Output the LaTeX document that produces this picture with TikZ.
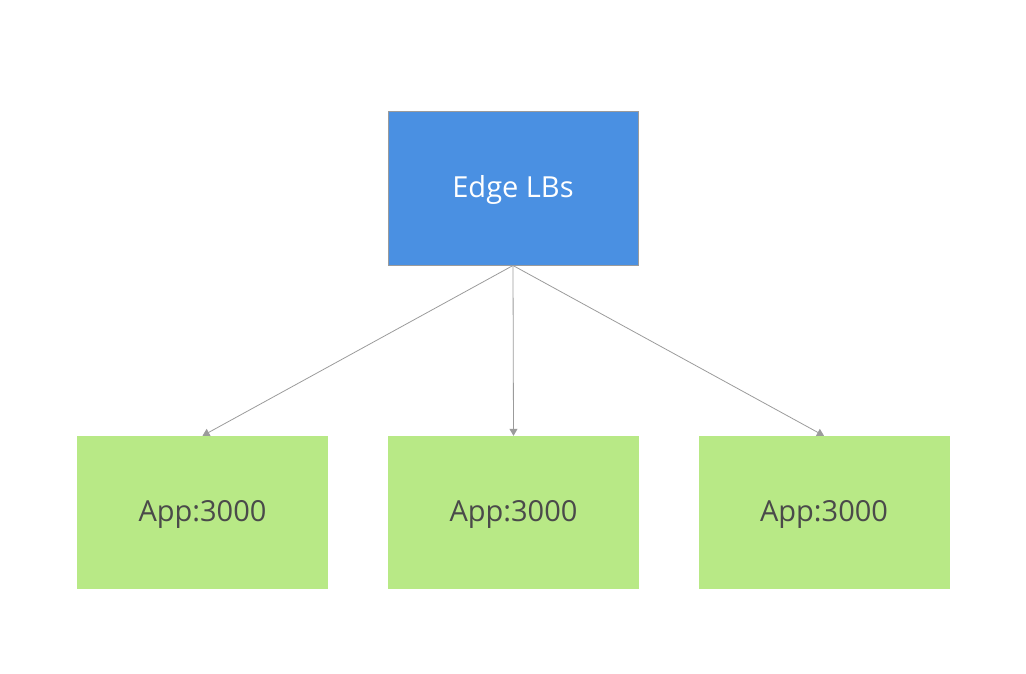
\documentclass[tikz,border=0pt]{standalone}
\usepackage{fontspec}
\setmainfont{Open Sans}
\usetikzlibrary{arrows.meta}
\definecolor{lbblue}{HTML}{4A90E2}
\definecolor{appgreen}{HTML}{B8E986}
\definecolor{txtgray}{HTML}{4A4A4A}
\definecolor{linegray}{HTML}{9B9B9B}
\tikzset{
  lbbox/.style={draw=linegray, line width=1pt, fill=lbblue, minimum width=250pt, minimum height=153pt, inner sep=0pt, text=white, text height=22pt, text depth=4pt, font=\fontsize{29}{34}\selectfont},
  appbox/.style={fill=appgreen, minimum width=251pt, minimum height=153pt, inner sep=0pt, text=txtgray, text height=22pt, text depth=4pt, font=\fontsize{29}{34}\selectfont},
  conn/.style={draw=linegray, line width=0.8pt, -{Triangle[length=7pt,width=8pt]}}
}
\begin{document}
\begin{tikzpicture}[x=1pt,y=-1pt]
\useasboundingbox (0,0) rectangle (1026,674);
\node[lbbox] (lb) at (513,188.5) {Edge LBs};
\node[appbox] (a1) at (202.5,512.5) {App:3000};
\node[appbox] (a2) at (513.5,512.5) {App:3000};
\node[appbox] (a3) at (824,512.5) {App:3000};
\draw[conn] (lb.south) -- (a1.north);
\draw[conn] (lb.south) -- (a2.north);
\draw[conn] (lb.south) -- (a3.north);
\end{tikzpicture}
\end{document}
